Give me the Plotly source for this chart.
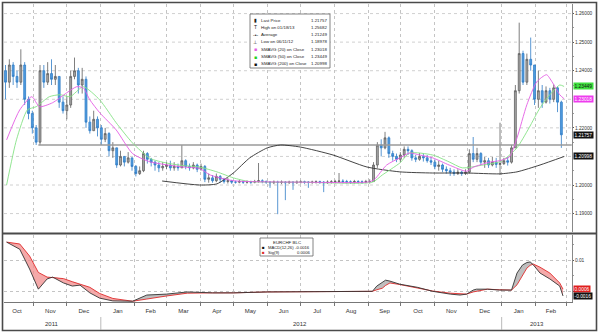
import numpy as np
import pandas as pd
import plotly.graph_objects as go

# ---------------- data ----------------
bar_start = "2011-10-06"
bar_step = "84h"          # ~half-weekly bars
first_open = 1.2400
closes = [
    1.2360, 1.2420, 1.2380, 1.2360, 1.2420, 1.2300, 1.2250, 1.2200, 1.2150, 1.2400,
    1.2360, 1.2390, 1.2370, 1.2380, 1.2290, 1.2260, 1.2280, 1.2380, 1.2400, 1.2350,
    1.2370, 1.2220, 1.2190, 1.2230, 1.2200, 1.2160, 1.2180, 1.2120, 1.2130, 1.2070,
    1.2100, 1.2080, 1.2095, 1.2065, 1.2040, 1.2050, 1.2110, 1.2090, 1.2080, 1.2070,
    1.2060, 1.2065, 1.2070, 1.2060, 1.2065, 1.2060, 1.2085, 1.2065, 1.2060, 1.2070,
    1.2055, 1.2065, 1.2020, 1.2025, 1.2015, 1.2030, 1.2020, 1.2012, 1.2015, 1.2010,
    1.2010, 1.2012, 1.2010, 1.2011, 1.2010, 1.2012, 1.2015, 1.2012, 1.2010, 1.2008,
    1.2010, 1.2009, 1.2010, 1.2008, 1.2010, 1.2008, 1.2010, 1.2011, 1.2010, 1.2009,
    1.2010, 1.2011, 1.2010, 1.2008, 1.2010, 1.2011, 1.2012, 1.2014, 1.2012, 1.2011,
    1.2010, 1.2012, 1.2011, 1.2010, 1.2012, 1.2012, 1.2070, 1.2140, 1.2130, 1.2165,
    1.2110, 1.2100, 1.2090, 1.2105, 1.2125, 1.2120, 1.2095, 1.2090, 1.2100, 1.2095,
    1.2085, 1.2080, 1.2065, 1.2070, 1.2055, 1.2050, 1.2045, 1.2040, 1.2045, 1.2040,
    1.2045, 1.2110, 1.2090, 1.2110, 1.2080, 1.2085, 1.2070, 1.2080, 1.2072, 1.2075,
    1.2085, 1.2080, 1.2130, 1.2330, 1.2460, 1.2360, 1.2440, 1.2420, 1.2300, 1.2330,
    1.2290, 1.2330, 1.2300, 1.2340, 1.2290, 1.21757,
]
highs = [
    1.2420, 1.2440, 1.2430, 1.2400, 1.2475, 1.2430, 1.2310, 1.2260, 1.2210, 1.2420,
    1.2420, 1.2430, 1.2440, 1.2420, 1.2380, 1.2310, 1.2310, 1.2400, 1.2446, 1.2410,
    1.2410, 1.2380, 1.2240, 1.2260, 1.2240, 1.2210, 1.2200, 1.2185, 1.2150, 1.2130,
    1.2120, 1.2100, 1.2115, 1.2095, 1.2070, 1.2065, 1.2120, 1.2115, 1.2095, 1.2085,
    1.2080, 1.2080, 1.2080, 1.2085, 1.2080, 1.2075, 1.2140, 1.2090, 1.2075, 1.2080,
    1.2075, 1.2075, 1.2070, 1.2040, 1.2035, 1.2040, 1.2035, 1.2025, 1.2025, 1.2018,
    1.2015, 1.2018, 1.2016, 1.2016, 1.2015, 1.2018, 1.2077, 1.2020, 1.2016, 1.2014,
    1.2016, 1.2015, 1.2016, 1.2014, 1.2015, 1.2014, 1.2016, 1.2016, 1.2015, 1.2014,
    1.2015, 1.2016, 1.2015, 1.2014, 1.2016, 1.2017, 1.2018, 1.2042, 1.2020, 1.2018,
    1.2016, 1.2018, 1.2017, 1.2016, 1.2018, 1.2020, 1.2080, 1.2150, 1.2160, 1.2186,
    1.2170, 1.2120, 1.2110, 1.2115, 1.2135, 1.2135, 1.2125, 1.2105, 1.2112, 1.2110,
    1.2105, 1.2098, 1.2090, 1.2085, 1.2075, 1.2065, 1.2060, 1.2055, 1.2055, 1.2050,
    1.2055, 1.2125, 1.2168, 1.2130, 1.2115, 1.2098, 1.2095, 1.2098, 1.2095, 1.2218,
    1.2095, 1.2098, 1.2140, 1.2350, 1.25682, 1.2470, 1.2460, 1.2516, 1.2420, 1.2400,
    1.2350, 1.2345, 1.2340, 1.2352, 1.2345, 1.2295,
]
lows = [
    1.2300, 1.2340, 1.2350, 1.2340, 1.2350, 1.2280, 1.2230, 1.2180, 1.2140, 1.2140,
    1.2340, 1.2350, 1.2350, 1.2350, 1.2270, 1.2250, 1.2230, 1.2270, 1.2370, 1.2320,
    1.2320, 1.2200, 1.2180, 1.2190, 1.2170, 1.2140, 1.2150, 1.2100, 1.2095, 1.2060,
    1.2065, 1.2065, 1.2075, 1.2050, 1.2030, 1.2035, 1.2045, 1.2075, 1.2065, 1.2050,
    1.2045, 1.2050, 1.2055, 1.2050, 1.2050, 1.2050, 1.2060, 1.2055, 1.2050, 1.2055,
    1.2045, 1.2050, 1.2010, 1.2008, 1.2008, 1.2010, 1.2008, 1.2005, 1.2005, 1.2004,
    1.2005, 1.2006, 1.2004, 1.2005, 1.2004, 1.2006, 1.2008, 1.2006, 1.2004, 1.1990,
    1.2003, 1.18978, 1.2003, 1.1947, 1.2004, 1.1983, 1.2004, 1.2005, 1.2004, 1.1990,
    1.2004, 1.2005, 1.2004, 1.1975, 1.2004, 1.2005, 1.2006, 1.2007, 1.2006, 1.2005,
    1.2004, 1.2005, 1.2005, 1.2004, 1.2006, 1.2005, 1.2012, 1.2060, 1.2100, 1.2125,
    1.2095, 1.2085, 1.2080, 1.2080, 1.2095, 1.2105, 1.2085, 1.2080, 1.2085, 1.2082,
    1.2078, 1.2070, 1.2055, 1.2050, 1.2045, 1.2040, 1.2032, 1.2032, 1.2035, 1.2032,
    1.2035, 1.2040, 1.2080, 1.2080, 1.2070, 1.2060, 1.2060, 1.2065, 1.2060, 1.2035,
    1.2070, 1.2068, 1.2075, 1.2130, 1.2320, 1.2350, 1.2350, 1.2400, 1.2280, 1.2270,
    1.2270, 1.2285, 1.2285, 1.2290, 1.2255, 1.2130,
]

sma20_dates = ["2011-10-07", "2011-10-19", "2011-10-30", "2011-11-06", "2011-11-18", "2011-12-01",
               "2011-12-10", "2011-12-16", "2011-12-22", "2011-12-31", "2012-01-15", "2012-01-30",
               "2012-02-15", "2012-03-16", "2012-03-31", "2012-04-10", "2012-05-01", "2012-07-01",
               "2012-09-02", "2012-09-07", "2012-09-18", "2012-09-30", "2012-10-09", "2012-10-18",
               "2012-10-30", "2012-11-14", "2012-11-30", "2012-12-06", "2012-12-21", "2012-12-30",
               "2013-01-08", "2013-01-15", "2013-01-24", "2013-02-02", "2013-02-11", "2013-02-16",
               "2013-02-23", "2013-02-27"]
sma20_vals = [1.2158, 1.2263, 1.2309, 1.2274, 1.2288, 1.2323,
              1.2344, 1.2340, 1.2298, 1.2253, 1.2193, 1.2110,
              1.2081, 1.2063, 1.2058, 1.2035, 1.2015, 1.2010,
              1.2011, 1.2020, 1.2070, 1.2095, 1.2112, 1.2105,
              1.2095, 1.2070, 1.2048, 1.2062, 1.2080, 1.2085,
              1.2098, 1.2165, 1.2281, 1.2361, 1.2386, 1.2361,
              1.2316, 1.23018]

sma50_dates = ["2011-10-07", "2011-10-16", "2011-10-26", "2011-11-03", "2011-11-15", "2011-11-25",
               "2011-12-04", "2011-12-16", "2011-12-31", "2012-01-15", "2012-01-30", "2012-02-15",
               "2012-03-01", "2012-03-16", "2012-03-31", "2012-04-16", "2012-05-01", "2012-05-16",
               "2012-07-01", "2012-09-05", "2012-09-14", "2012-09-30", "2012-10-09", "2012-10-30",
               "2012-11-14", "2012-11-26", "2012-12-15", "2012-12-30", "2013-01-05", "2013-01-15",
               "2013-01-26", "2013-02-05", "2013-02-14", "2013-02-23", "2013-02-27"]
sma50_vals = [1.2000, 1.2158, 1.2263, 1.2274, 1.2309, 1.2316,
              1.2309, 1.2344, 1.2298, 1.2218, 1.2147, 1.2093,
              1.2077, 1.2068, 1.2063, 1.2046, 1.2025, 1.2012,
              1.2010, 1.2010, 1.2035, 1.2077, 1.2112, 1.2105,
              1.2081, 1.2060, 1.2070, 1.2081, 1.2095, 1.2130,
              1.2200, 1.2270, 1.2316, 1.2350, 1.23449]

sma200_dates = ["2012-02-26", "2012-03-31", "2012-04-16", "2012-05-01", "2012-05-16", "2012-06-01",
                "2012-06-13", "2012-07-01", "2012-07-31", "2012-08-31", "2012-09-30", "2012-10-30",
                "2012-11-30", "2012-12-30", "2013-01-15", "2013-02-05", "2013-02-27"]
sma200_vals = [1.2014, 1.2000, 1.2004, 1.2042, 1.2095, 1.2130,
               1.2140, 1.2133, 1.2105, 1.2063, 1.2046, 1.2042,
               1.2042, 1.2039, 1.2046, 1.2070, 1.20998]

support_level = 1.2140
support_dates = ["2011-11-05", "2013-03-06"]

macd_dates = ["2011-10-07", "2011-10-19", "2011-10-28", "2011-11-05", "2011-11-13", "2011-11-18",
              "2011-11-28", "2011-12-06", "2011-12-13", "2011-12-22", "2011-12-31", "2012-01-12",
              "2012-01-30", "2012-02-06", "2012-02-12", "2012-03-01", "2012-03-20", "2012-04-12",
              "2012-05-01", "2012-06-01", "2012-07-01", "2012-08-06", "2012-09-05", "2012-09-09",
              "2012-09-14", "2012-09-17", "2012-09-21", "2012-09-30", "2012-10-16", "2012-10-30",
              "2012-11-15", "2012-11-24", "2012-11-30", "2012-12-06", "2012-12-09", "2012-12-19",
              "2012-12-30", "2013-01-10", "2013-01-15", "2013-01-20", "2013-01-24", "2013-01-27",
              "2013-01-30", "2013-02-05", "2013-02-14", "2013-02-23", "2013-02-26"]
macd_vals = [0.0158, 0.0135, 0.0071, 0.0006, 0.0039, 0.0045,
             0.0026, 0.0016, 0.0019, -0.0006, -0.0023, -0.0032,
             -0.0033, -0.0023, -0.0013, -0.0010, -0.0003, -0.0006,
             -0.0006, -0.0003, -0.0002, -0.0002, -0.0001, 0.0016,
             0.0029, 0.0035, 0.0032, 0.0022, 0.0012, -0.0001,
             -0.0010, -0.0013, -0.0010, 0.0003, 0.0006, 0.0006,
             0.0003, 0.0003, 0.0058, 0.0084, 0.0092, 0.0094,
             0.0084, 0.0058, 0.0039, 0.0016, -0.0016]
sig_vals = [0.0158, 0.0152, 0.0113, 0.0060, 0.0045, 0.0044,
            0.0040, 0.0030, 0.0022, 0.0012, -0.0008, -0.0024,
            -0.0033, -0.0030, -0.0026, -0.0016, -0.0007, -0.0006,
            -0.0006, -0.0003, -0.0002, -0.0002, -0.0001, 0.0004,
            0.0009, 0.0018, 0.0026, 0.0021, 0.0010, 0.0000,
            -0.0007, -0.0010, -0.0010, -0.0003, -0.0001, 0.0006,
            0.0004, 0.0003, 0.0020, 0.0050, 0.0074, 0.0083,
            0.0087, 0.0077, 0.0058, 0.0026, 0.0006]

last_price = 1.21757
high_text, high_value = "High on 01/18/13", 1.25682
average_value = 1.21249
low_text, low_value = "Low on 06/11/12", 1.18978
sma20_last, sma50_last, sma200_last = 1.23018, 1.23449, 1.20998
macd_last, sig_last = -0.0016, 0.0006

price_ticks = [1.19, 1.20, 1.22, 1.24, 1.25, 1.26]
price_grid = [1.19, 1.20, 1.21, 1.22, 1.23, 1.24, 1.25, 1.26]
macd_ticks = [0.0, 0.01]
month_labels_fmt = "%b"
year_labels = [("2011", "2011-11-17"), ("2012", "2012-07-01"), ("2013", "2013-02-02")]
year_breaks = ["2012-01-01", "2013-01-01"]

# ---------------- layout geometry ----------------
W, H = 600, 333
L, R, T, B = 4, 28, 4, 31
PW, PH = W - L - R, H - T - B
def pxx(p):
    return (p - L) / PW
def pxy(p):
    return (H - B - p) / PH

x_range = ["2011-10-04 15:00", "2013-03-06 05:00"]
FONT = "Liberation Sans, Arial, sans-serif"
MAG, GRN, BLK, RED = "#e45ce4", "#86e286", "#303030", "#e02a2a"

bar_dates = pd.date_range(bar_start, periods=len(closes), freq=bar_step)
opens = [first_open] + closes[:-1]

fig = go.Figure()
fig.add_trace(go.Candlestick(
    x=bar_dates, open=opens, high=highs, low=lows, close=closes,
    increasing=dict(line=dict(color="#5e5e5e", width=0.8), fillcolor="#a9a9a9"),
    decreasing=dict(line=dict(color="#2f7cc6", width=0.8), fillcolor="#529de0"),
    whiskerwidth=0, xaxis="x", yaxis="y", showlegend=False, hoverinfo="skip"))
fig.add_trace(go.Scatter(x=support_dates, y=[support_level] * len(support_dates), mode="lines",
                         line=dict(color="#9a9a9a", width=1.4), xaxis="x", yaxis="y", showlegend=False))
fig.add_trace(go.Scatter(x=sma200_dates, y=sma200_vals, mode="lines", line=dict(color=BLK, width=0.9, shape="spline", smoothing=0.6),
                         xaxis="x", yaxis="y", showlegend=False))
fig.add_trace(go.Scatter(x=sma50_dates, y=sma50_vals, mode="lines", line=dict(color=GRN, width=0.9, shape="spline", smoothing=0.6),
                         xaxis="x", yaxis="y", showlegend=False))
fig.add_trace(go.Scatter(x=sma20_dates, y=sma20_vals, mode="lines", line=dict(color=MAG, width=0.9, shape="spline", smoothing=0.6),
                         xaxis="x", yaxis="y", showlegend=False))

macd_arr = np.array(macd_vals)
sig_arr = np.array(sig_vals)
upper = np.maximum(macd_arr, sig_arr)
# pink where signal above MACD
fig.add_trace(go.Scatter(x=macd_dates, y=macd_arr, mode="lines", line=dict(width=0), xaxis="x2", yaxis="y2", showlegend=False, hoverinfo="skip"))
fig.add_trace(go.Scatter(x=macd_dates, y=upper, mode="lines", line=dict(width=0), fill="tonexty", fillcolor="rgba(240,140,140,0.75)",
                         xaxis="x2", yaxis="y2", showlegend=False, hoverinfo="skip"))
# grey where MACD above signal
fig.add_trace(go.Scatter(x=macd_dates, y=sig_arr, mode="lines", line=dict(width=0), xaxis="x2", yaxis="y2", showlegend=False, hoverinfo="skip"))
fig.add_trace(go.Scatter(x=macd_dates, y=upper, mode="lines", line=dict(width=0), fill="tonexty", fillcolor="rgba(170,170,170,0.75)",
                         xaxis="x2", yaxis="y2", showlegend=False, hoverinfo="skip"))
fig.add_trace(go.Scatter(x=macd_dates, y=sig_vals, mode="lines", line=dict(color=RED, width=0.9), xaxis="x2", yaxis="y2", showlegend=False))
fig.add_trace(go.Scatter(x=macd_dates, y=macd_vals, mode="lines", line=dict(color="#333333", width=0.9), xaxis="x2", yaxis="y2", showlegend=False))

main_dom = [pxy(232), 1.0]
macd_dom = [0.0, pxy(235)]
gcol = "#c4c4c4"

fig.update_layout(
    width=W, height=H, margin=dict(l=L, r=R, t=T, b=B, autoexpand=False),
    paper_bgcolor="white", plot_bgcolor="white",
    font=dict(family=FONT, size=6, color="#333333"),
    xaxis=dict(domain=[0, 1], range=x_range, type="date", anchor="y", showticklabels=False, automargin=False,
               dtick="M1", tick0="2011-10-01", rangeslider=dict(visible=False), zeroline=False,
               showgrid=True, gridcolor=gcol, griddash="dot", gridwidth=0.8),
    xaxis2=dict(domain=[0, 1], range=x_range, type="date", anchor="y2", matches="x", automargin=False,
                dtick="M1", tick0="2011-10-01", ticklabelmode="period", tickformat=month_labels_fmt,
                ticks="outside", ticklen=3, tickcolor="#777", tickfont=dict(size=6, color="#333"),
                showline=True, linecolor="#777", linewidth=1, zeroline=False,
                showgrid=True, gridcolor=gcol, griddash="dot", gridwidth=0.8),
    yaxis=dict(domain=main_dom, range=[1.18355, 1.26335], side="right", anchor="x", automargin=False,
               tickvals=price_ticks, ticktext=[f"{v:.5f}" for v in price_ticks],
               ticks="outside", ticklen=1, tickcolor="#555", tickfont=dict(size=4.8, color="#333"),
               minor=dict(tickmode="array", tickvals=[1.195, 1.205, 1.215, 1.225, 1.235, 1.245, 1.255],
                          ticks="outside", ticklen=1, tickcolor="#999", showgrid=False),
               showline=True, linecolor="#888", linewidth=1, zeroline=False, showgrid=False),
    yaxis2=dict(domain=macd_dom, range=[-0.00355, 0.0181], side="right", anchor="x2", automargin=False,
                tickvals=macd_ticks, ticktext=["", "0.01"],
                ticks="outside", ticklen=1, tickcolor="#555", tickfont=dict(size=4.8, color="#333"),
                minor=dict(tickmode="array", tickvals=[0.005, 0.015], ticks="outside", ticklen=1, tickcolor="#999", showgrid=False),
                showline=True, linecolor="#888", linewidth=1, zeroline=False,
                showgrid=True, gridcolor=gcol, griddash="dot", gridwidth=0.8),
)

shapes = []
for lv in price_grid:
    shapes.append(dict(type="line", xref="x domain", yref="y", x0=0, x1=1, y0=lv, y1=lv,
                       line=dict(color=gcol, width=0.8, dash="dot"), layer="below"))
# outer frame and panel separator
shapes.append(dict(type="rect", xref="paper", yref="paper", x0=pxx(2.5), x1=pxx(596.5), y0=pxy(330.5), y1=pxy(2.5),
                   line=dict(color="#4a4a4a", width=1.6)))
shapes.append(dict(type="line", xref="paper", yref="paper", x0=pxx(3), x1=pxx(596), y0=pxy(233.5), y1=pxy(233.5),
                   line=dict(color="#4a4a4a", width=2)))
for yb in year_breaks:
    shapes.append(dict(type="line", xref="x", yref="paper", x0=yb, x1=yb, y0=pxy(317), y1=pxy(330),
                       line=dict(color="#aaaaaa", width=0.8)))
# legend boxes
shapes.append(dict(type="rect", xref="paper", yref="paper", x0=pxx(250), x1=pxx(330), y0=pxy(68), y1=pxy(14),
                   line=dict(color="#666", width=0.8), fillcolor="white"))
shapes.append(dict(type="rect", xref="paper", yref="paper", x0=pxx(260), x1=pxx(313), y0=pxy(256), y1=pxy(238),
                   line=dict(color="#666", width=0.8), fillcolor="white"))
fig.update_layout(shapes=shapes)

ann = []
for label, xd in year_labels:
    ann.append(dict(text=label, x=xd, xref="x", y=pxy(324), yref="paper", showarrow=False,
                    font=dict(size=6, color="#333"), xanchor="center", yanchor="middle"))

legend_rows = [
    ("▮", "#222222", "Last Price", last_price),
    ("T", "#222222", high_text, high_value),
    ("-•-", "#222222", "Average", average_value),
    ("⊥", "#222222", low_text, low_value),
    ("■", MAG, "SMAVG (20) on Close", sma20_last),
    ("■", "#22d022", "SMAVG (50) on Close", sma50_last),
    ("■", "#111111", "SMAVG (200) on Close", sma200_last),
]
for k, (icon, col, lab, val) in enumerate(legend_rows):
    yy = pxy(20 + k * 7.3)
    ann.append(dict(text=icon, x=pxx(255), y=yy, xref="paper", yref="paper", showarrow=False,
                    font=dict(size=5, color=col), xanchor="center", yanchor="middle"))
    ann.append(dict(text=lab, x=pxx(258.5), y=yy, xref="paper", yref="paper", showarrow=False,
                    font=dict(size=4.4, color="#222"), xanchor="left", yanchor="middle"))
    ann.append(dict(text=f"{val:.5f}", x=pxx(328.5), y=yy, xref="paper", yref="paper", showarrow=False,
                    font=dict(size=4.4, color="#222"), xanchor="right", yanchor="middle"))

ann.append(dict(text="EURCHF BLC", x=pxx(287), y=pxy(242), xref="paper", yref="paper", showarrow=False,
                font=dict(size=4.4, color="#222"), xanchor="center", yanchor="middle"))
for k, (col, lab, val) in enumerate([("#111111", "MACD(12,26)", macd_last), (RED, "Sig(9)", sig_last)]):
    yy = pxy(247 + k * 5)
    ann.append(dict(text="■", x=pxx(263), y=yy, xref="paper", yref="paper", showarrow=False,
                    font=dict(size=4.4, color=col), xanchor="center", yanchor="middle"))
    ann.append(dict(text=lab, x=pxx(265.5), y=yy, xref="paper", yref="paper", showarrow=False,
                    font=dict(size=4.2, color="#222"), xanchor="left", yanchor="middle"))
    ann.append(dict(text=f"{val:.4f}", x=pxx(311.5), y=yy, xref="paper", yref="paper", showarrow=False,
                    font=dict(size=4.2, color="#222"), xanchor="right", yanchor="middle"))

# value tags on the right axis
tags = [
    (sma50_last, "y", "#3ee03e", "#111111", 5),
    (sma20_last, "y", "#ee3cee", "#ffffff", 5),
    (last_price, "y", "#111111", "#ffffff", 5),
    (sma200_last, "y", "#111111", "#ffffff", 5),
    (sig_last, "y2", "#e01e1e", "#ffffff", 4),
    (macd_last, "y2", "#111111", "#ffffff", 4),
]
for val, yref, bg, fc, dec in tags:
    ann.append(dict(text=f"{val:.{dec}f}", x=1, xref="paper", y=val, yref=yref, xanchor="left", yanchor="middle",
                    xshift=1, showarrow=False, bgcolor=bg, font=dict(size=4.8, color=fc),
                    borderpad=0.6))
fig.update_layout(annotations=ann)

fig.write_html("out.html", config={"displayModeBar": False},
               post_script="document.body.style.margin='0';document.body.style.padding='0';"
                           "document.documentElement.style.overflow='hidden';")
